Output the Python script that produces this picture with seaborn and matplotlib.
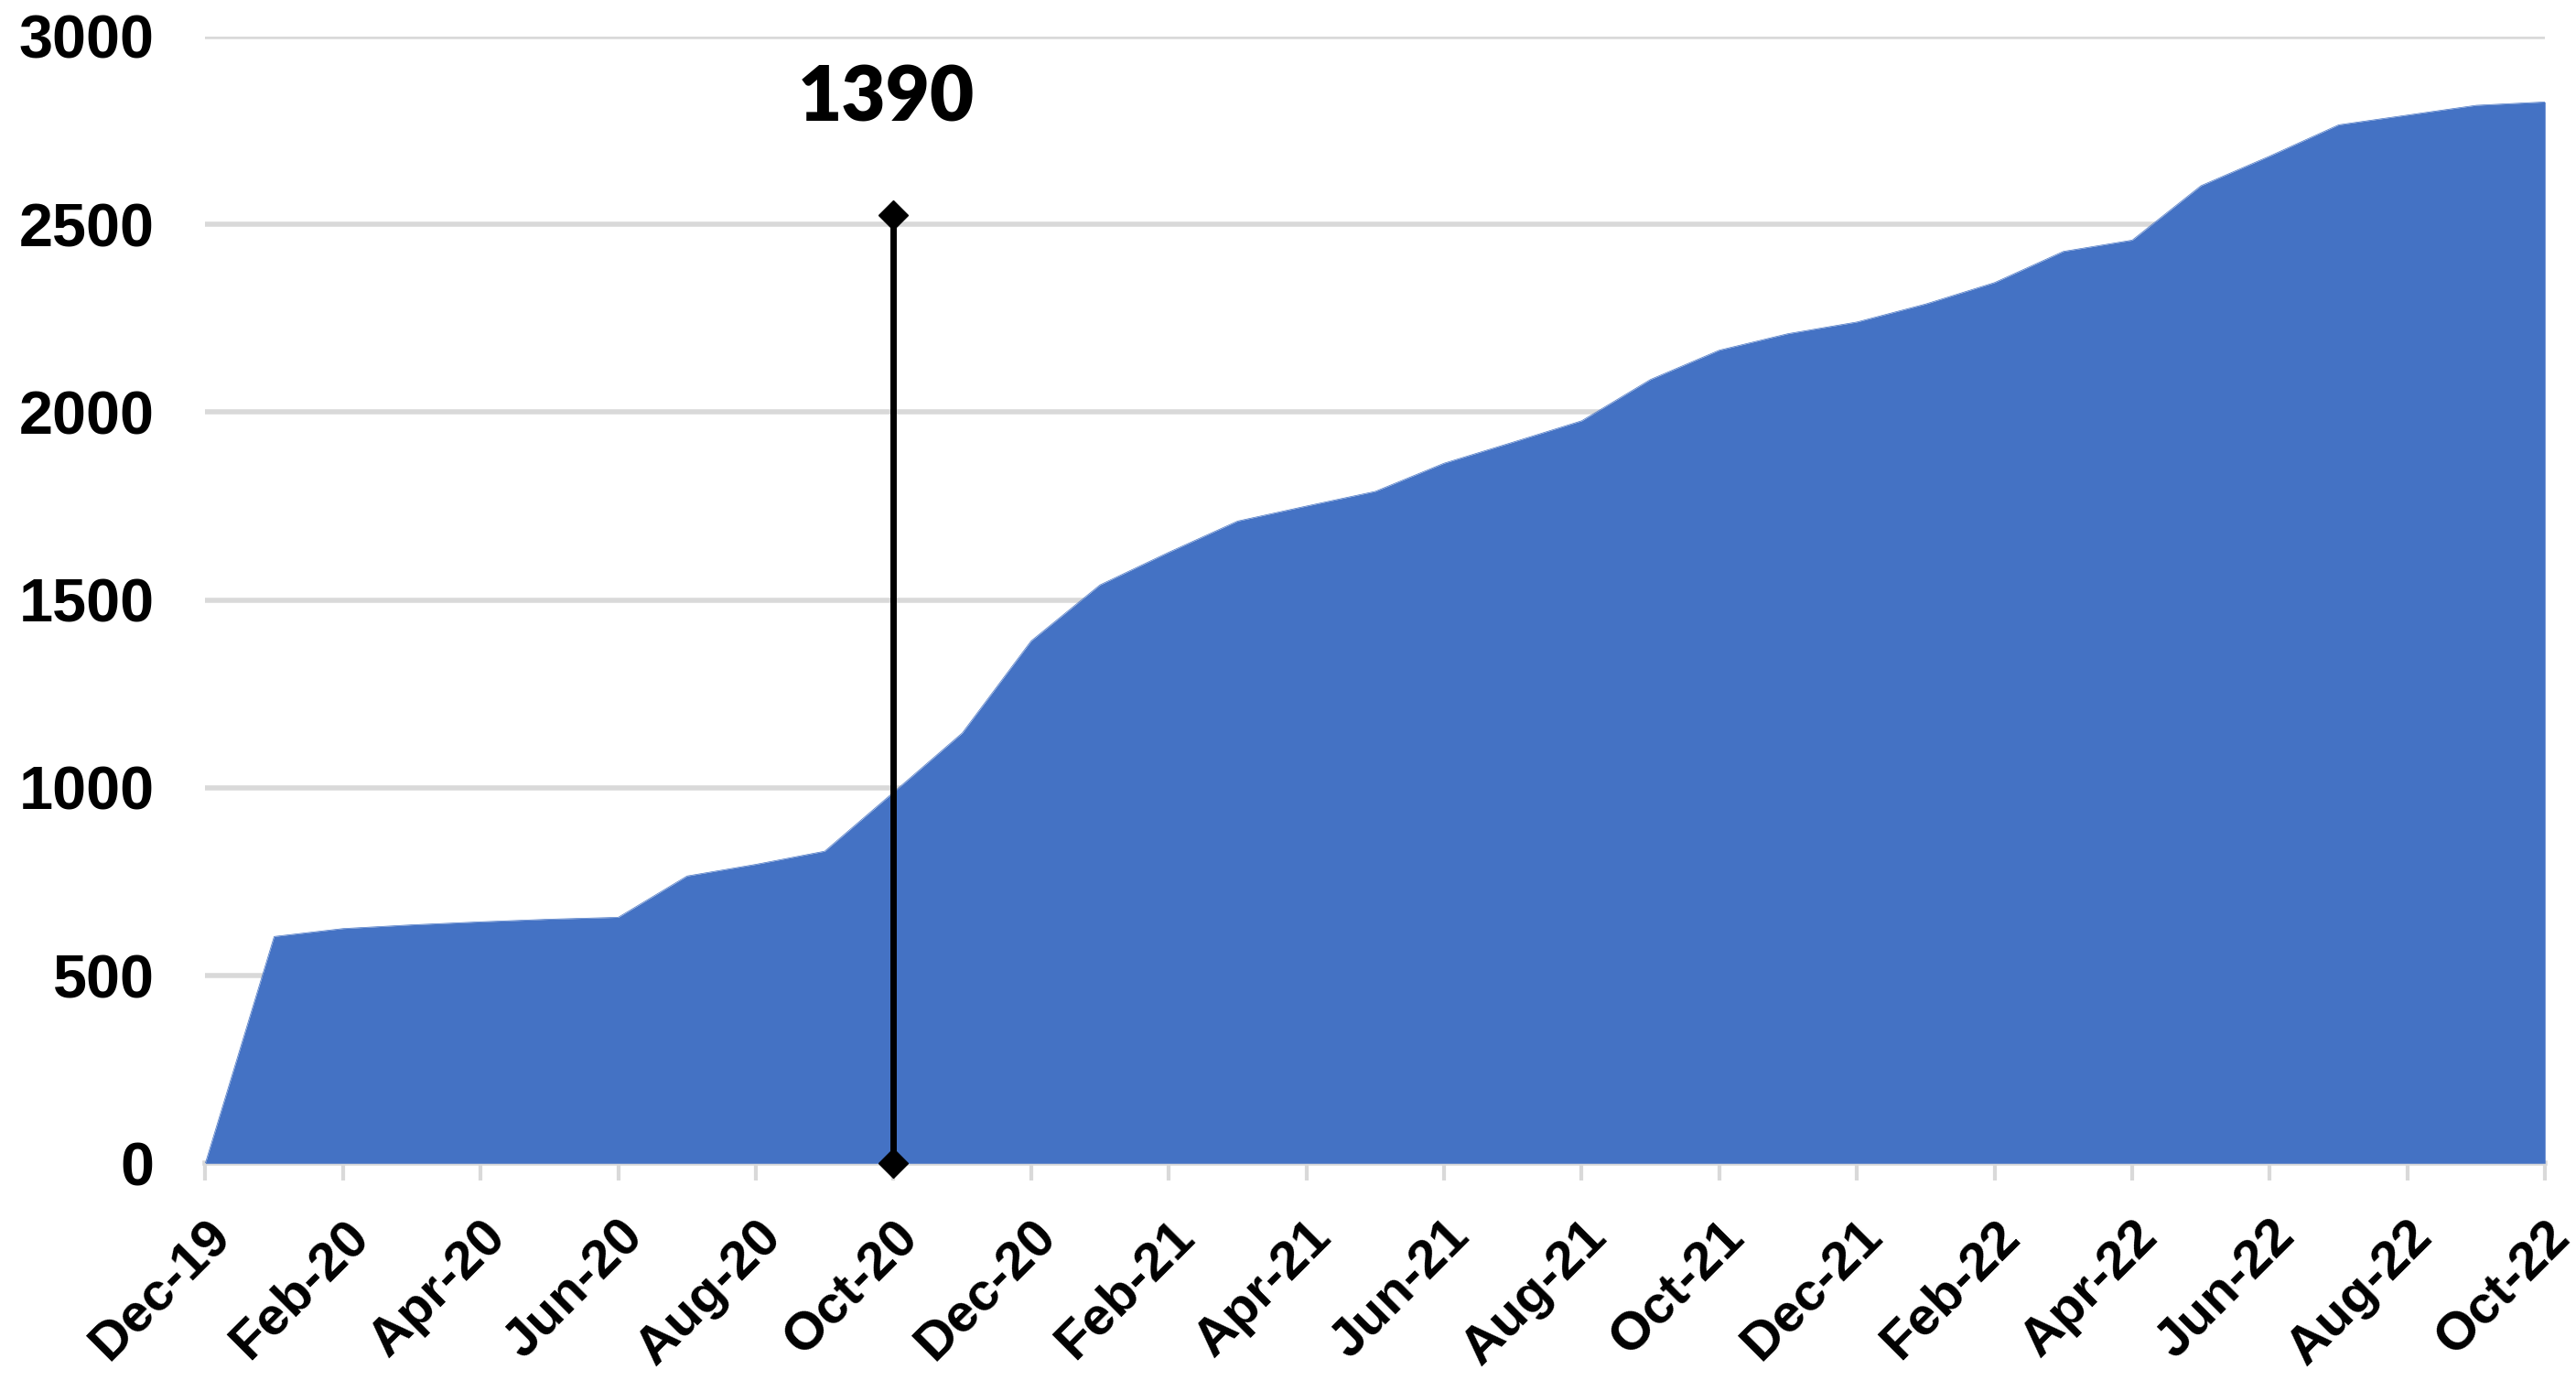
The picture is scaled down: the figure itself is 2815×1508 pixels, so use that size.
import numpy as np
import pandas as pd
import seaborn as sns
import matplotlib.pyplot as plt

sns.set_style("white")
plt.rcParams['font.family'] = ['Liberation Sans', 'DejaVu Sans']
plt.rcParams['text.color'] = 'black'

months = ['Dec-19', 'Jan-20', 'Feb-20', 'Mar-20', 'Apr-20', 'May-20', 'Jun-20',
          'Jul-20', 'Aug-20', 'Sep-20', 'Oct-20', 'Nov-20', 'Dec-20',
          'Jan-21', 'Feb-21', 'Mar-21', 'Apr-21', 'May-21', 'Jun-21',
          'Jul-21', 'Aug-21', 'Sep-21', 'Oct-21', 'Nov-21', 'Dec-21',
          'Jan-22', 'Feb-22', 'Mar-22', 'Apr-22', 'May-22', 'Jun-22',
          'Jul-22', 'Aug-22', 'Sep-22', 'Oct-22']
values = [0, 604, 625, 635, 643, 650, 655,
          765, 796, 831, 988, 1146, 1391,
          1540, 1627, 1710, 1750, 1789, 1864,
          1920, 1977, 2087, 2165, 2209, 2240,
          2288, 2345, 2428, 2458, 2603, 2682,
          2765, 2791, 2817, 2826]

marker_month = 'Oct-20'
marker_top = 2525
marker_label = '1390'
label_y = 2835

df = pd.DataFrame({'month': months, 'value': values})
df['idx'] = np.arange(len(df))

fig = plt.figure(figsize=(28.15, 15.08), dpi=100)
ax = fig.add_axes([0.0797, 0.157, 0.988 - 0.0797, 0.9735 - 0.157])

ax.fill_between(df['idx'], df['value'], 0, color='#4472C4', linewidth=0, zorder=2)
sns.lineplot(data=df, x='idx', y='value', ax=ax, color='#4472C4', linewidth=0.5, zorder=2)

mx = months.index(marker_month)
ax.plot([mx, mx], [0, marker_top], color='black', linewidth=5, marker='D',
        markersize=16, zorder=5, clip_on=False)
ax.text(mx - 0.1, label_y, marker_label, ha='center', va='center', fontsize=60,
        fontweight='heavy', family=['Lato', 'DejaVu Sans'], color='black', zorder=6)

ax.set_xlim(0, len(months) - 1)
ax.set_ylim(0, 3000)
ax.set_yticks(range(0, 3001, 500))
ax.set_yticklabels([str(v) for v in range(0, 3001, 500)], fontsize=48,
                   fontweight='bold', color='black')
tick_pos = df['idx'][::2]
ax.set_xticks(tick_pos)
ax.set_xticklabels(df['month'][::2], fontsize=42, fontweight='bold', rotation=45,
                   ha='right', va='top', rotation_mode='anchor', color='black')

ax.grid(axis='y', color='#d9d9d9', linewidth=4, zorder=0)
ax.set_axisbelow(True)
for s in ['top', 'right', 'left']:
    ax.spines[s].set_visible(False)
ax.spines['bottom'].set_color('#d9d9d9')
ax.spines['bottom'].set_linewidth(4)
ax.spines['bottom'].set_zorder(1)
ax.tick_params(axis='x', length=14, width=3, color='#d9d9d9', pad=24, direction='out', bottom=True)
ax.tick_params(axis='y', length=0, pad=40)
ax.set_xlabel('')
ax.set_ylabel('')

plt.savefig('out.png', dpi=100)
